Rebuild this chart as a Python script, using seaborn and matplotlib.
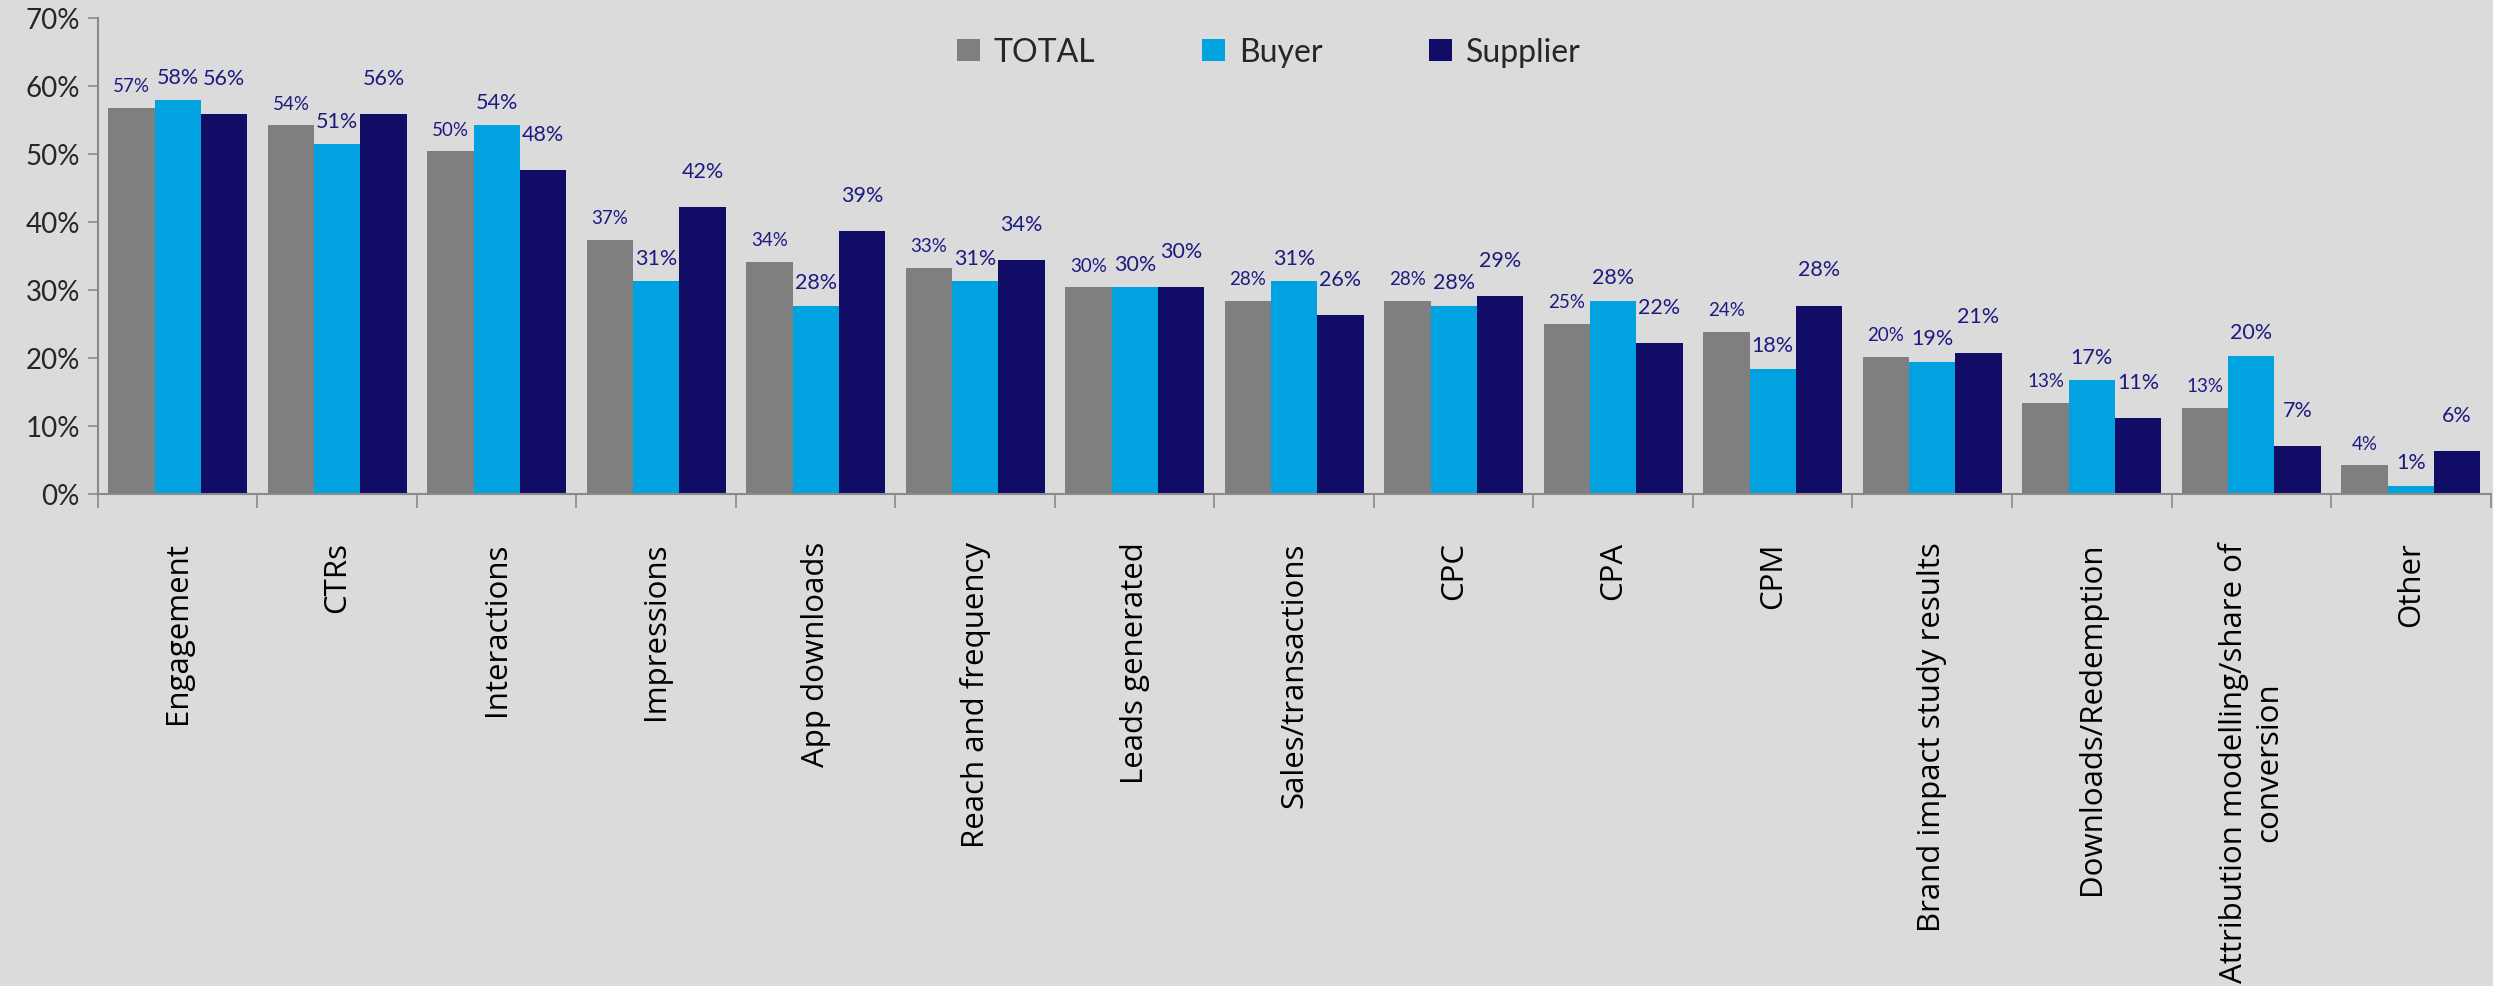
import matplotlib
matplotlib.use("Agg")
import matplotlib.pyplot as plt
import matplotlib.ticker as mticker
from matplotlib.patches import Patch
import seaborn as sns
import pandas as pd

# Survey results: share of respondents using each metric (%)
categories = [
    "Engagement", "CTRs", "Interactions", "Impressions", "App downloads",
    "Reach and frequency", "Leads generated", "Sales/transactions", "CPC",
    "CPA", "CPM", "Brand impact study results", "Downloads/Redemption",
    "Attribution modelling/share of\nconversion", "Other",
]
total = [56.8, 54.2, 50.4, 37.4, 34.1, 33.2, 30.4, 28.4, 28.4, 25.0, 23.8, 20.2, 13.4, 12.7, 4.2]
buyer = [57.9, 51.4, 54.2, 31.3, 27.7, 31.3, 30.4, 31.3, 27.7, 28.4, 18.4, 19.4, 16.7, 20.3, 1.2]
supplier = [55.9, 55.9, 47.6, 42.2, 38.7, 34.4, 30.4, 26.3, 29.1, 22.2, 27.7, 20.8, 11.2, 7.1, 6.3]
groups = ["TOTAL", "Buyer", "Supplier"]
y_ticks = [0, 10, 20, 30, 40, 50, 60, 70]

colors = {"TOTAL": "#7f7f7f", "Buyer": "#00a3e0", "Supplier": "#110c66"}
label_color = "#1d1a80"
bg = "#dbdbdb"
axis_grey = "#8a8a8a"

df = pd.DataFrame({
    "metric": categories * 3,
    "value": total + buyer + supplier,
    "group": [g for g in groups for _ in categories],
})

sns.set_theme(style="white")
plt.rcParams["font.family"] = ["Lato", "DejaVu Sans"]

fig = plt.figure(figsize=(24.93, 9.87), dpi=100, facecolor=bg)
ax = fig.add_axes([0.0393, 0.4985, 0.9597, 0.4823])
ax.set_facecolor(bg)

sns.barplot(data=df, x="metric", y="value", hue="group", hue_order=groups,
            palette=colors, saturation=1, width=0.87, dodge=True,
            errorbar=None, ax=ax, legend=False, linewidth=0, edgecolor="none")

# value labels above each bar
label_style = {
    "TOTAL": dict(size=13.5, offset=16),
    "Buyer": dict(size=15.5, offset=17),
    "Supplier": dict(size=15.5, offset=26),
}
for grp, cont in zip(groups, ax.containers):
    st = label_style[grp]
    for bar in cont:
        h = bar.get_height()
        ax.annotate(f"{round(h)}%", (bar.get_x() + bar.get_width() / 2, h),
                    xytext=(0, st["offset"]), textcoords="offset points",
                    ha="center", va="center", fontsize=st["size"],
                    color=label_color)

ax.set_xlim(-0.5, len(categories) - 0.5)
ax.set_ylim(0, 70)
ax.set_yticks(y_ticks)
ax.yaxis.set_major_formatter(mticker.FuncFormatter(lambda v, _: f"{v:.0f}%"))
ax.set_xlabel("")
ax.set_ylabel("")

for s in ("top", "right"):
    ax.spines[s].set_visible(False)
for s in ("left", "bottom"):
    ax.spines[s].set_color(axis_grey)
    ax.spines[s].set_linewidth(1.5)

ax.tick_params(axis="y", which="major", direction="out", length=7, width=1.2,
               color=axis_grey, labelsize=20, pad=6, left=True)
ax.tick_params(axis="x", which="major", length=0, pad=34)
ax.set_xticks(range(len(categories)))
ax.set_xticklabels(categories, rotation=90, ha="center", va="top",
                   multialignment="center", fontsize=22.5,
                   family=["Open Sans", "DejaVu Sans"], color="black")
ax.set_xticks([i - 0.5 for i in range(len(categories) + 1)], minor=True)
ax.tick_params(axis="x", which="minor", direction="out", length=10, width=1.2,
               color=axis_grey, bottom=True)

handles = [Patch(facecolor=colors[g], edgecolor="none") for g in groups]
fig.legend(handles, groups, loc="center", bbox_to_anchor=(0.509, 0.946),
           ncol=3, frameon=False, fontsize=23, handlelength=0.7,
           handleheight=0.7, handletextpad=0.44, columnspacing=3.35)

fig.savefig("out.png", dpi=100, facecolor=bg)
